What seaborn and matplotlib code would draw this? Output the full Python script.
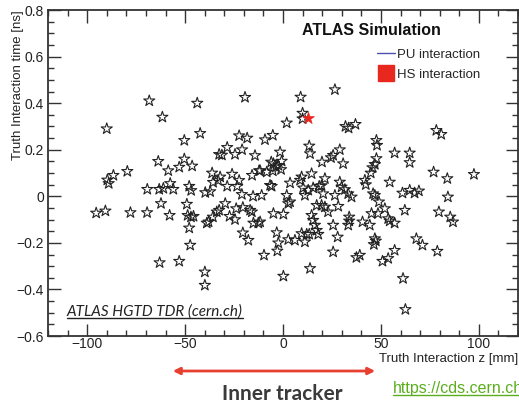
import matplotlib
matplotlib.use("Agg")
import matplotlib.pyplot as plt
import seaborn as sns
import pandas as pd
import numpy as np
from matplotlib.lines import Line2D
from matplotlib.patches import FancyArrowPatch
from matplotlib.ticker import MultipleLocator

# ---- data ----
pu_z = [-68.3, -90, -61.6, -43.8, -19.4, -42.3, -50.4, -22.4, -18.3, -28.5, -32.6, -31.2, -24.5, -20.9, -14.3,
        -63.7, -50.4, -89.7, -89, -86.6, -79.5, -58.6, -53, -46.4, -36.2, -26, -15.8, -12.2, -69.3, -63.2,
        -61.1, -57.6, -56, -47.9, -46.9, -39.7, -37.2, -35.7, -33.1, -32.1, -28.5, -23.4, -22.4, -21, -15.3,
        9, 26.5, 10, 10, 1.9, 31.9, 33.5, 37, 78.3, 80.8, -9.2, -5.2, 47.7, 48, 13.4, 13.8, 29, 25.6, 24.5,
        19.9, 30.7, -1.5, 57, 64.7, 64.7, 47.7, 46.9, 45.7, 44.8, 76.9, 83.9, 97.5, -11.7, -8.3, -5.2, -3.6,
        -4.9, -0.7, -2.4, -6.6, -5.8, 3.6, 8.7, 9.5, 14.6, 10.3, 15.4, 19.7, 21.4, 18.5, 29, 29.9, 31.6,
        41.8, 42.3, 54.5, 46, 46.9, 61, 64.7, 67.2, 69.4, 84.2, 20.5, 26.5, 1.9, -10.9, 33.3, 35, 12.9,
        11.2, -6, -1,
        -95.4, -90.7, -77.9, -69.4, -62.3, -57.9, -49.1, -48.7, -47, -45.7, -47.9, -47.4, -63, -53, -39.9,
        -39.9, -38.9, -38, -35.8, -33.8, -32.6, -29.5, -27.3, -24.5, -23.9, -20.5, -16.8, -15.9, -20.5,
        -17.7, -15.1, -12.6,
        2.7, 3.6, 17.2, 19.7, 21.4, 23, 28.2, -4.9, 0.2, -11.7, 14.6, 15.4, 16.3, 17.2, 18, 25.6, 33.8,
        33.8, 33.3, 40.6, 44.3, 45.2, 48.5, 49, 52, 53.7, 54.5, 57, 62.2, 79.6, 85.4, 86.8, -3.2, -2.4,
        -2.9, 2.7, 6.1, 9.5, 12.1, 11.2, 13.4, -9.7, 25.6, 27.9, 46.9, 47.4, 46.4, 37.5, 39.2, 50.8, 53.7,
        57, 68.1, 71.2, 78.8, 13.8, 0.2, 61.3, 62.5]
pu_t = [0.41, 0.29, 0.34, 0.40, 0.425, 0.27, 0.24, 0.26, 0.25, 0.21, 0.18, 0.177, 0.18, 0.20, 0.175,
        0.15, 0.16, 0.07, 0.055, 0.09, 0.107, 0.11, 0.125, 0.13, 0.10, 0.095, 0.09, 0.11, 0.03, 0.03,
        0.034, 0.055, 0.03, 0.043, 0.025, 0.016, 0.02, 0.06, 0.068, 0.083, 0.043, 0.043, 0.068, 0.008, 0.0,
        0.426, 0.458, 0.357, 0.333, 0.315, 0.30, 0.293, 0.309, 0.283, 0.266, 0.243, 0.262, 0.24, 0.219,
        0.216, 0.183, 0.20, 0.176, 0.166, 0.147, 0.14, 0.19, 0.186, 0.186, 0.145, 0.162, 0.137, 0.123,
        0.10, 0.104, 0.076, 0.094, 0.11, 0.104, 0.109, 0.126, 0.14, 0.151, 0.133, 0.047, 0.043, 0.057,
        0.069, 0.083, 0.097, 0.036, 0.036, 0.046, 0.076, 0.043, 0.061, 0.04, 0.029, 0.069, 0.05, 0.061,
        0.011, 0.004, 0.014, 0.026, 0.014, 0.023, -0.003, 0.011, 0.004, 0.004, 0.004, 0.011, -0.003,
        0.026, 0.004, 0.147, 0.115,
        -0.072, -0.063, -0.07, -0.07, -0.031, -0.082, -0.034, -0.082, -0.089, -0.086, -0.136, -0.21,
        -0.285, -0.279, -0.325, -0.382, -0.115, -0.11, -0.089, -0.067, -0.06, -0.031, -0.086, -0.1,
        -0.053, -0.048, -0.06, -0.067, -0.157, -0.189, -0.115, -0.115,
        -0.031, -0.024, -0.039, -0.039, -0.046, -0.067, -0.043, -0.074, -0.077, -0.11, -0.082, -0.103,
        -0.124, -0.146, -0.163, -0.124, -0.089, -0.106, -0.124, -0.11, -0.124, -0.074, -0.074, -0.024,
        -0.053, -0.096, -0.106, -0.115, -0.06, -0.067, -0.089, -0.11, -0.156, -0.2, -0.235, -0.186,
        -0.189, -0.16, -0.163, -0.196, -0.163, -0.253, -0.239, -0.175, -0.182, -0.192, -0.207, -0.263,
        -0.253, -0.279, -0.267, -0.232, -0.182, -0.21, -0.236, -0.31, -0.343, -0.353, -0.486]
hs_z = [12.6]
hs_t = [0.338]

x_ticks = [-100, -50, 0, 50, 100]
y_ticks = [-0.6, -0.4, -0.2, 0, 0.2, 0.4, 0.6, 0.8]

pu_df = pd.DataFrame({"z": pu_z, "t": pu_t})
hs_df = pd.DataFrame({"z": hs_z, "t": hs_t})

sns.set_theme(style="white")
plt.rcParams['font.family'] = ['Liberation Sans', 'DejaVu Sans']

W, H = 519, 403
fig = plt.figure(figsize=(W / 100, H / 100), dpi=100)
ax = fig.add_axes([48 / W, 1 - 336 / H, (518 - 48) / W, (336 - 10) / H])

sns.scatterplot(data=pu_df, x="z", y="t", ax=ax, marker="*", s=70,
                facecolor="none", edgecolor="#222222", linewidth=0.8, legend=False)
sns.scatterplot(data=hs_df, x="z", y="t", ax=ax, marker="*", s=80,
                color="#e8281e", edgecolor="#e8281e", linewidth=0.5, legend=False)

ax.set_xlim(-120, 120)
ax.set_ylim(-0.6, 0.8)
ax.set_xticks(x_ticks)
ax.set_yticks(y_ticks)
ax.set_xticklabels([str(v) if v >= 0 else "\u2212" + str(-v) for v in x_ticks])
ax.set_yticklabels(["0" if v == 0 else ("%.1f" % v).replace("-", "\u2212") for v in y_ticks])
ax.xaxis.set_minor_locator(MultipleLocator(10))
ax.yaxis.set_minor_locator(MultipleLocator(0.05))
ax.tick_params(which="both", direction="in", top=True, right=True, bottom=True, left=True,
               color="#333333", width=1.0, labelsize=10, labelcolor="#222222")
ax.tick_params(which="major", length=9)
ax.tick_params(which="minor", length=4.5)
ax.tick_params(axis="x", which="major", pad=1)
ax.tick_params(axis="y", which="major", pad=3)
for sp in ax.spines.values():
    sp.set_color("#333333")
    sp.set_linewidth(1.3)

ax.set_xlabel("Truth Interaction z [mm]", loc="right", fontsize=9.5, color="#222222")
ax.set_ylabel("Truth Interaction time [ns]", loc="top", fontsize=9.5, color="#222222")
ax.yaxis.set_label_coords(-0.052, 1.0)
ax.xaxis.set_label_coords(1.0, -0.072)
ax.xaxis.label.set_va("center")

ax.text(0.54, 0.938, "ATLAS Simulation", transform=ax.transAxes, fontsize=11.5,
        fontweight="bold", va="center", ha="left", color="#111111")

handles = [Line2D([0], [0], color="#5050b0", lw=1.0),
           Line2D([0], [0], marker="s", color="#e8281e", linestyle="none", markersize=11.5)]
ax.legend(handles, ["PU interaction", "HS interaction"], loc="upper left",
          bbox_to_anchor=(0.688, 0.897), frameon=False, fontsize=9.5, handlelength=1.4,
          handletextpad=0.15, labelspacing=0.55, borderaxespad=0)

# source note inside the plot
src = ax.text(67 / W, 1 - 312 / H, "ATLAS HGTD TDR (cern.ch)", transform=fig.transFigure,
              fontsize=11, style="italic", family=["Lato", "DejaVu Sans"], color="#222222",
              va="center", ha="left")

# arrow and label below
arr = FancyArrowPatch((170 / W, 1 - 371 / H), (378 / W, 1 - 371 / H), transform=fig.transFigure,
                      arrowstyle="<|-|>", mutation_scale=10, color="#e84030", lw=2.0)
fig.add_artist(arr)
fig.text(282 / W, 1 - 394 / H, "Inner tracker", fontsize=15, fontweight="bold",
         family=["Lato", "DejaVu Sans"], color="#3a3a3a", ha="center", va="center")
url = fig.text(393 / W, 1 - 388 / H, "https://cds.cern.ch", fontsize=11.5,
               color="#5aae1e", ha="left", va="center")

fig.canvas.draw()
r = fig.canvas.get_renderer()
for t, c in [(src, "#222222"), (url, "#5aae1e")]:
    bb = t.get_window_extent(r)
    y = bb.y0 + 1
    fig.add_artist(Line2D([bb.x0 / W, bb.x1 / W], [y / H, y / H], transform=fig.transFigure,
                          color=c, lw=1.0))

fig.savefig("out.png", dpi=100, facecolor="white")
